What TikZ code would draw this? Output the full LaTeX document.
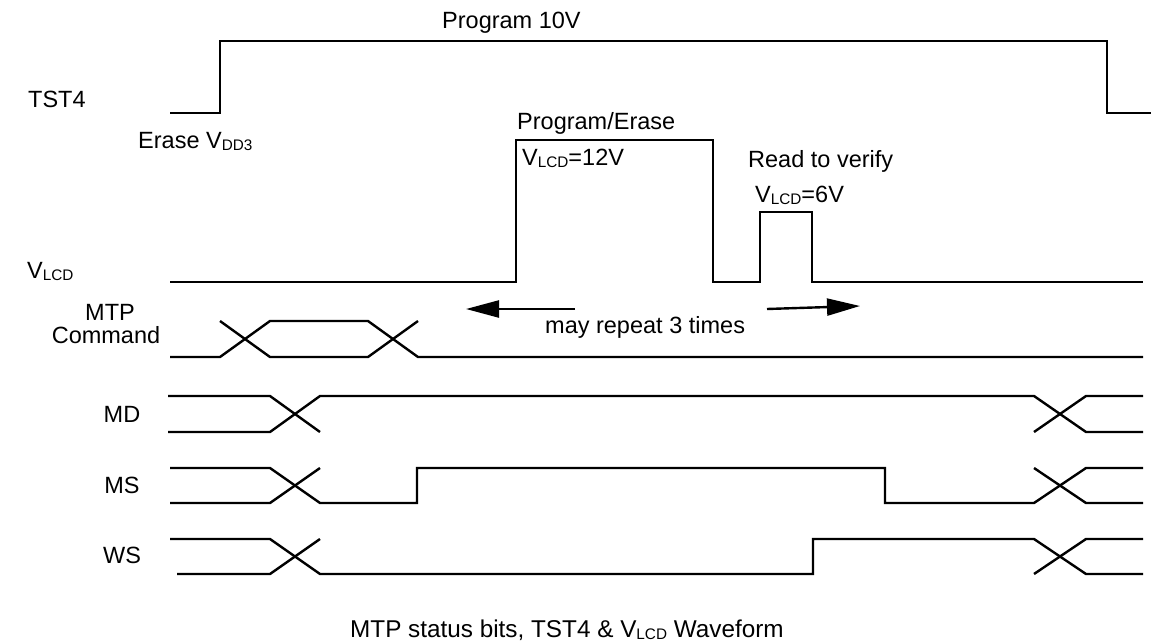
\documentclass[tikz,border=0pt]{standalone}
\usepackage{fontspec}
\setmainfont{Liberation Sans}
\usetikzlibrary{arrows.meta}
\newcommand{\lowtxt}[1]{\raisebox{-2pt}{\fontsize{15.3}{15.3}\selectfont #1}}

\begin{document}
\begin{tikzpicture}[x=1pt, y=-1pt,
  wave/.style={line width=2.4pt, line join=miter},
  lbl/.style={inner sep=0pt, anchor=base west, font=\fontsize{23.5}{27}\selectfont},
  rpt/.style={line width=2.4pt, -{Triangle[length=33pt, width=17pt]}}]
\useasboundingbox (0,0) rectangle (1151,643);
\draw[wave] (170,113)--(220,113)--(220,41)--(1107,41)--(1107,113)--(1151,113);
\draw[wave] (170,282)--(516,282)--(516,140)--(713,140)--(713,282)--(760,282)--(760,212)--(812,212)--(812,282)--(1143,282);
\draw[wave] (170,357)--(220,357)--(270,321)--(368,321)--(418,357)--(1143,357);
\draw[wave] (220,321)--(270,357)--(368,357)--(418,321);
\draw[wave] (168,396)--(270,396)--(320,432);
\draw[wave] (168,432)--(270,432)--(320,396)--(1034,396)--(1086,432)--(1143,432);
\draw[wave] (1034,432)--(1086,396)--(1143,396);
\draw[wave] (170,468)--(270,468)--(320,503)--(417,503)--(417,468)--(885,468)--(885,503)--(1034,503)--(1086,468)--(1143,468);
\draw[wave] (170,503)--(270,503)--(320,468);
\draw[wave] (1034,468)--(1086,503)--(1143,503);
\draw[wave] (170,539)--(270,539)--(320,574)--(813,574)--(813,539)--(1034,539)--(1086,574)--(1143,574);
\draw[wave] (177,574)--(270,574)--(320,539);
\draw[wave] (1034,574)--(1086,539)--(1143,539);
\coordinate (rptLa) at (575,309);
\coordinate (rptLb) at (466,309);
\coordinate (rptRa) at (767,309);
\coordinate (rptRb) at (860,306);
\draw[rpt] (rptLa)--(rptLb);
\draw[rpt] (rptRa)--(rptRb);
\path
(28,107) node[lbl] (tst) {TST4};
\path
(27,278) node[lbl] (vlcd) {V\lowtxt{LCD}};
\path
(110,320) node[lbl, anchor=base] (mtp) {MTP};
\path
(106,343) node[lbl, anchor=base] (cmd) {Command};
\path
(122,422) node[lbl, anchor=base] (md) {MD};
\path
(122,493) node[lbl, anchor=base] (ms) {MS};
\path
(122,563) node[lbl, anchor=base] (ws) {WS};
\path
(442,28) node[lbl] (prg) {Program 10V};
\path
(138,148) node[lbl] (ers) {Erase V\lowtxt{DD3}};
\path
(517,129) node[lbl] (pe) {Program/Erase};
\path
(522,165) node[lbl] (v12) {V\lowtxt{LCD}=12V};
\path
(748,167) node[lbl] (rtv) {Read to verify};
\path
(755,202) node[lbl] (v6) {V\lowtxt{LCD}=6V};
\path
(545,333) node[lbl] (may) {may repeat 3 times};
\path
(350,637) node[lbl, font=\fontsize{24.3}{28}\selectfont] (cap) {MTP status bits, TST4 \& V\lowtxt{LCD} Waveform};
\end{tikzpicture}
\end{document}
